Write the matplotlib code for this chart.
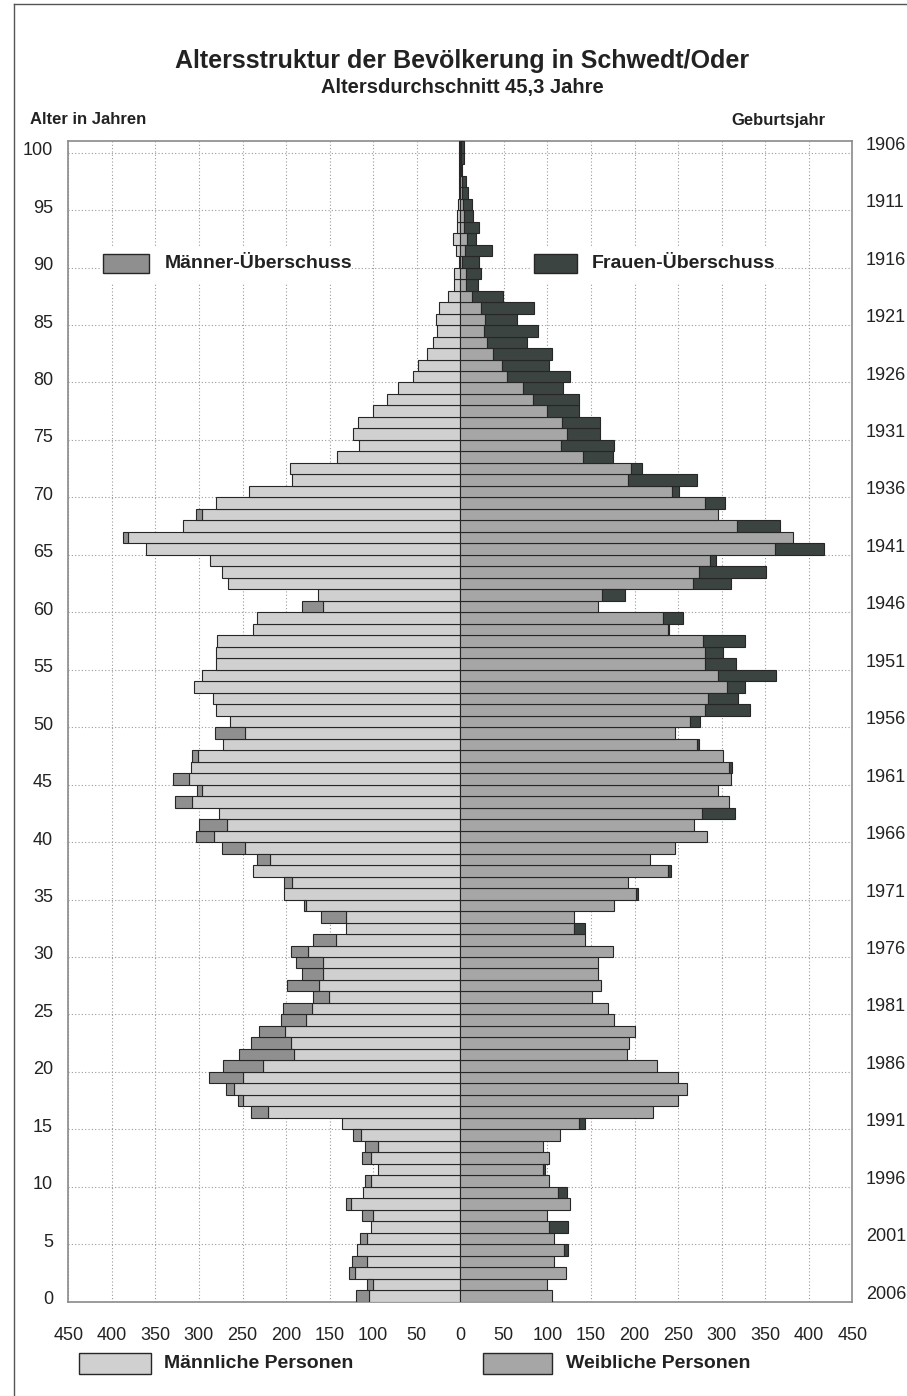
import matplotlib
matplotlib.use("Agg")
import matplotlib.pyplot as plt
import numpy as np
from matplotlib.patches import Rectangle
from matplotlib.ticker import FuncFormatter
from matplotlib.transforms import ScaledTranslation

# population by single year of age (0..100)
AGES = list(range(101))
MALE = [
    120, 107, 128, 124, 119, 115, 102, 113, 131, 112,
    109, 95, 113, 109, 123, 136, 240, 255, 269, 288,
    272, 254, 240, 231, 206, 203, 169, 199, 182, 189,
    194, 169, 131, 160, 179, 202, 202, 238, 233, 274,
    303, 300, 277, 327, 302, 330, 309, 308, 272, 282,
    264, 281, 284, 306, 296, 281, 281, 279, 238, 233,
    182, 163, 267, 274, 287, 361, 387, 318, 303, 281,
    243, 193, 196, 141, 116, 123, 117, 100, 84, 72,
    54, 48, 38, 31, 27, 28, 24, 14, 7, 7,
    2, 5, 8, 4, 4, 3, 2, 2, 1, 1,
    1,
]
FEMALE = [
    105, 100, 121, 107, 124, 107, 124, 100, 126, 123,
    102, 97, 102, 95, 114, 143, 221, 250, 260, 250,
    226, 191, 194, 201, 177, 170, 151, 162, 158, 158,
    175, 143, 143, 131, 177, 204, 193, 242, 218, 247,
    283, 268, 315, 308, 296, 311, 312, 301, 274, 247,
    275, 332, 319, 327, 362, 316, 301, 327, 240, 256,
    158, 189, 311, 351, 293, 418, 382, 367, 296, 304,
    251, 272, 209, 175, 177, 160, 160, 136, 136, 118,
    126, 102, 105, 76, 89, 65, 85, 49, 20, 24,
    22, 36, 18, 22, 15, 14, 9, 7, 2, 4,
    4,
]

X_TICKS = list(range(-450, 451, 50))
AGE_TICKS = list(range(0, 101, 5))
BIRTH_YEARS = ["2006", "2001", "1996", "1991", "1986", "1981", "1976",
               "1971", "1966", "1961", "1956", "1951", "1946", "1941",
               "1936", "1931", "1926", "1921", "1916", "1911", "1906"]

TITLE = "Altersstruktur der Bevölkerung in Schwedt/Oder"
SUBTITLE = "Altersdurchschnitt 45,3 Jahre"

C_MALE = "#d0d0d0"
C_FEMALE = "#a6a6a6"
C_MALE_EXTRA = "#8f8f8f"
C_FEMALE_EXTRA = "#3c4442"
EDGE = "#262626"
TEXT = "#222222"

W, H = 907, 1396
plt.rcParams["font.family"] = ["Liberation Sans", "DejaVu Sans"]


def fx(x):
    return x / W


def fy(y):
    return 1 - y / H


def legend_item(fig, x0, x1, y0, y1, color, label, tx):
    fig.patches.append(Rectangle((fx(x0), fy(y1)), fx(x1) - fx(x0), fy(y0) - fy(y1),
                                 transform=fig.transFigure, facecolor=color,
                                 edgecolor=EDGE, linewidth=1.0, zorder=6))
    fig.text(fx(tx), fy((y0 + y1) / 2), label, fontsize=14, fontweight="bold",
             color=TEXT, ha="left", va="center", zorder=6)


def main():
    male = np.array(MALE, dtype=float)
    female = np.array(FEMALE, dtype=float)
    ages = np.array(AGES)
    common = np.minimum(male, female)
    male_extra = male - common
    female_extra = female - common

    fig = plt.figure(figsize=(W / 100, H / 100), dpi=100)
    ax = fig.add_axes([fx(68.3), fy(1301.7), fx(852.3) - fx(68.3), fy(141.2) - fy(1301.7)])

    bar_kw = dict(height=1.0, align="edge", edgecolor=EDGE, linewidth=0.8, zorder=3)
    ax.barh(ages, -common, color=C_MALE, **bar_kw)
    m = male_extra > 0
    ax.barh(ages[m], -male_extra[m], left=-common[m], color=C_MALE_EXTRA, **bar_kw)
    ax.barh(ages, common, color=C_FEMALE, **bar_kw)
    f = female_extra > 0
    ax.barh(ages[f], female_extra[f], left=common[f], color=C_FEMALE_EXTRA, **bar_kw)

    ax.set_xlim(-450, 450)
    ax.set_ylim(0, 101)
    ax.set_xticks(X_TICKS)
    ax.xaxis.set_major_formatter(FuncFormatter(lambda v, p: f"{abs(int(v))}"))
    ax.set_yticks(AGE_TICKS)
    ax.tick_params(axis="x", length=0, pad=18, labelsize=13, labelcolor=TEXT)
    ax.tick_params(axis="y", length=0, pad=11, labelsize=13, labelcolor=TEXT)
    for lab in ax.get_yticklabels():
        lab.set_transform(lab.get_transform() + ScaledTranslation(0, 0.04, fig.dpi_scale_trans))

    ax.grid(True, color="#9a9a9a", linestyle=(0, (1, 2)), linewidth=0.8, zorder=0)
    ax.set_axisbelow(True)
    for sp in ax.spines.values():
        sp.set_color("#8a8a8a")
        sp.set_linewidth(1.2)

    # birth years on the right side
    for age, year in zip(AGE_TICKS, BIRTH_YEARS):
        ax.text(1.0175, age + 0.65, year, transform=ax.get_yaxis_transform(),
                fontsize=13, color=TEXT, ha="left", va="center", clip_on=False)

    # white backdrop behind the upper legend items
    for x0, x1 in [(100, 350), (530, 775)]:
        fig.patches.append(Rectangle((fx(x0), fy(283)), fx(x1) - fx(x0), fy(248) - fy(283),
                                     transform=fig.transFigure, facecolor="white",
                                     edgecolor="none", zorder=5))
    legend_item(fig, 102.7, 149.3, 254, 273.3, C_MALE_EXTRA, "Männer-Überschuss", 164.3)
    legend_item(fig, 534.3, 576.7, 254, 273.3, C_FEMALE_EXTRA, "Frauen-Überschuss", 591.7)
    legend_item(fig, 79, 150.7, 1353.3, 1374, C_MALE, "Männliche Personen", 164.3)
    legend_item(fig, 483, 552, 1353.3, 1374, C_FEMALE, "Weibliche Personen", 566)

    fig.text(fx(462), fy(61), TITLE, fontsize=18, fontweight="bold", color=TEXT,
             ha="center", va="center")
    fig.text(fx(462), fy(88), SUBTITLE, fontsize=14.5, fontweight="bold", color=TEXT,
             ha="center", va="center")
    fig.text(fx(30), fy(120), "Alter in Jahren", fontsize=12, fontweight="bold",
             color=TEXT, ha="left", va="center")
    fig.text(fx(826), fy(120), "Geburtsjahr", fontsize=12, fontweight="bold",
             color=TEXT, ha="right", va="center")

    # outer frame (left and top edge visible)
    fig.add_artist(plt.Line2D([fx(13.5), fx(13.5)], [fy(3.5), 0], transform=fig.transFigure,
                              color="#555555", linewidth=1.0))
    fig.add_artist(plt.Line2D([fx(13.5), 1], [fy(3.5), fy(3.5)], transform=fig.transFigure,
                              color="#555555", linewidth=1.0))

    fig.savefig("out.png", dpi=100)
    plt.close(fig)


if __name__ == "__main__":
    main()
